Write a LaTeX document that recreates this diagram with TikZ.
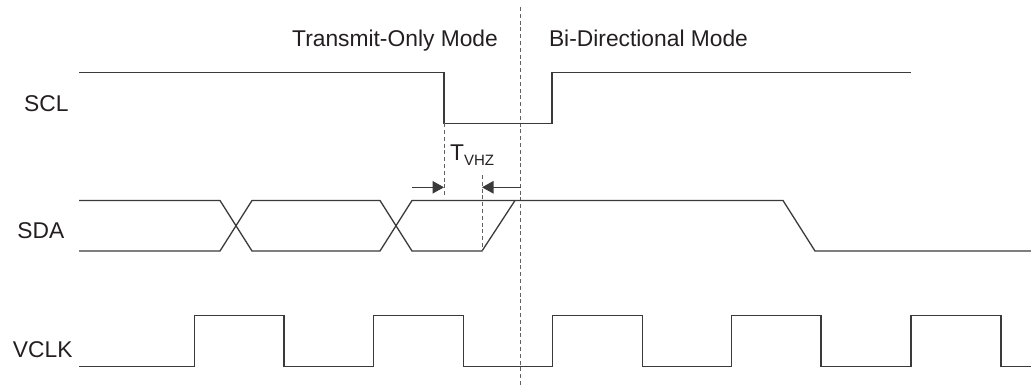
\documentclass[tikz,border=0pt]{standalone}
\usepackage{fontspec}
\setmainfont{Liberation Sans}
\usetikzlibrary{arrows.meta}
\definecolor{ink}{HTML}{231F20}
\definecolor{wire}{HTML}{3A3A3A}
\tikzset{
  wave/.style={draw=wire, line width=1.3pt, line join=miter},
  guide/.style={draw=wire!80, line width=1pt, dash pattern=on 4pt off 2.8pt},
  lbl/.style={text=ink, font=\fontsize{22.8}{22.8}\selectfont, inner sep=0pt},
  dim/.style={draw=wire, line width=1.1pt, -{Triangle[length=11.5pt,width=12.5pt]}},
}
\begin{document}
\begin{tikzpicture}[x=1pt,y=-1pt]
\useasboundingbox (0,0) rectangle (1031,387);
% labels
\node[lbl, anchor=base] (tom) at (395,46.5) {Transmit-Only Mode};
\node[lbl, anchor=base] (bdm) at (648.5,46.5) {Bi-Directional Mode};
\node[lbl, anchor=base] (scl) at (46.3,111.5) {SCL};
\node[lbl, anchor=base] (sda) at (40.8,239) {SDA};
\node[lbl, anchor=base] (vclk) at (42.7,357) {VCLK};
\node[lbl, anchor=base west] (tvhz) at (450,161) {T\raisebox{-5pt}{\fontsize{15}{15}\selectfont VHZ}};
% mode boundary
\coordinate (bt) at (520.7,7);
\coordinate (bb) at (520.7,387);
\draw[guide] (bt) -- (bb);
% SCL
\draw[wave] (79,72.3) -- (444,72.3) -- (444,123.3) -- (552,123.3) -- (552,72.3) -- (911,72.3);
% SDA
\draw[wave] (79,200.5) -- (220,200.5) -- (252,251) -- (380,251) -- (412,200.5) -- (783,200.5) -- (815,251) -- (1031,251);
\draw[wave] (79,251) -- (220,251) -- (252,200.5) -- (380,200.5) -- (412,251) -- (482,251) -- (515,200.5);
% VCLK
\draw[wave] (79,366.7)
  -- (194.7,366.7) -- (194.7,315.7) -- (284,315.7) -- (284,366.7)
  -- (373.3,366.7) -- (373.3,315.7) -- (463.3,315.7) -- (463.3,366.7)
  -- (552.7,366.7) -- (552.7,315.7) -- (642.3,315.7) -- (642.3,366.7)
  -- (731.7,366.7) -- (731.7,315.7) -- (821,315.7) -- (821,366.7)
  -- (911,366.7) -- (911,315.7) -- (1001,315.7) -- (1001,366.7)
  -- (1031,366.7);
% T_VHZ guides
\coordinate (g1t) at (444,123.3);
\coordinate (g1b) at (444,197);
\coordinate (g2t) at (482,175);
\coordinate (g2b) at (482,251);
\draw[guide] (g1t) -- (g1b);
\draw[guide] (g2t) -- (g2b);
% arrows
\coordinate (a1s) at (411.7,187.3);
\coordinate (a1e) at (444,187.3);
\coordinate (a2s) at (520.7,187.3);
\coordinate (a2e) at (482,187.3);
\draw[dim] (a1s) -- (a1e);
\draw[dim] (a2s) -- (a2e);
\end{tikzpicture}
\end{document}
